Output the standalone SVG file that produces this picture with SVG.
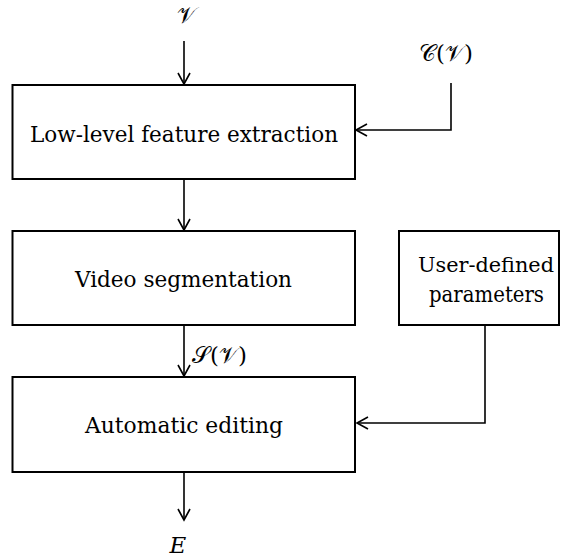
<svg xmlns="http://www.w3.org/2000/svg" width="561" height="558" viewBox="0 0 561 558">
  <defs>
    <marker id="arrow" markerUnits="userSpaceOnUse" markerWidth="16" markerHeight="16" viewBox="-13 -8 16 16" refX="0" refY="0" orient="auto">
      <path d="M-11,-6 L0,0 L-11,6" fill="none" stroke="#000" stroke-width="1.6"/>
    </marker>
    <style>
      .box { fill: #fff; stroke: #000; stroke-width: 2; }
      .label { font-family: 'DejaVu Serif', serif; font-size: 22.5px; fill: #000; text-anchor: middle; }
      .small { font-size: 20.5px; }
      .math { font-family: 'DejaVu Serif', serif; font-size: 23px; fill: #000; }
      .wire { fill: none; stroke: #000; stroke-width: 1.6; marker-end: url(#arrow); }
    </style>
  </defs>

  <!-- Connectors -->
  <g id="connectors">
    <path class="wire" d="M184,41 V84"/>
    <path class="wire" d="M451,83 V130 H356"/>
    <path class="wire" d="M184,179 V230"/>
    <path class="wire" d="M184,325 V376"/>
    <path class="wire" d="M485,325 V423 H357"/>
    <path class="wire" d="M184,472 V520"/>
  </g>

  <!-- Input / output symbols -->
  <g id="input-v">
    <text class="math" x="186" y="23" text-anchor="middle">𝒱</text>
  </g>
  <g id="input-cv">
    <text class="math" x="446" y="61" text-anchor="middle">𝒞(𝒱)</text>
  </g>
  <g id="label-sv">
    <text class="math" x="192" y="363">𝒮(𝒱)</text>
  </g>
  <g id="output-e">
    <text class="math" x="178" y="553" text-anchor="middle" font-style="italic" font-size="23">E</text>
  </g>

  <!-- Processing blocks -->
  <g id="feature-extraction">
    <rect class="box" x="12.5" y="85" width="342.5" height="94"/>
    <text class="label" x="184" y="141.5" textLength="308" lengthAdjust="spacingAndGlyphs">Low-level feature extraction</text>
  </g>
  <g id="video-segmentation">
    <rect class="box" x="12.5" y="231" width="342.5" height="94"/>
    <text class="label" x="183.5" y="287" textLength="217" lengthAdjust="spacingAndGlyphs">Video segmentation</text>
  </g>
  <g id="user-parameters">
    <rect class="box" x="399" y="231" width="160" height="94"/>
    <text class="label small" x="486" y="272" textLength="136" lengthAdjust="spacingAndGlyphs">User-defined</text>
    <text class="label" x="486.5" y="302" textLength="115" lengthAdjust="spacingAndGlyphs">parameters</text>
  </g>
  <g id="automatic-editing">
    <rect class="box" x="12.5" y="377" width="342.5" height="95"/>
    <text class="label" x="184" y="433" textLength="198" lengthAdjust="spacingAndGlyphs">Automatic editing</text>
  </g>
</svg>
